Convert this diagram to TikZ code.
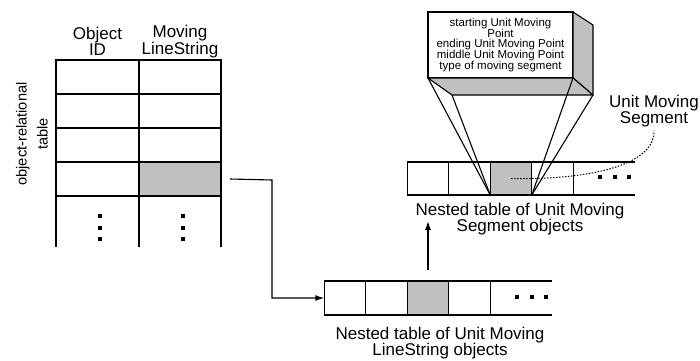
\documentclass[tikz,border=0pt]{standalone}
\usepackage{fontspec}
\setmainfont{Liberation Sans}
\usetikzlibrary{arrows.meta}
\definecolor{cellgray}{RGB}{192,192,192}
\begin{document}
\begin{tikzpicture}[x=1pt,y=-1pt,line width=1.1pt,
  cell/.style={draw, minimum width=#1, minimum height=34pt, inner sep=0pt, outer sep=0pt},
  graycell/.style={cell=#1, fill=cellgray},
  sq/.style={fill=black, minimum size=4pt, inner sep=0pt, outer sep=0pt},
  lbl/.style={align=center, inner sep=0pt, font=\fontsize{17}{16.5}\selectfont},
  arr/.style={-{Latex[length=9pt,width=6pt]}},
  dotline/.style={line width=1pt, dash pattern=on 1.5pt off 1.5pt}]
\useasboundingbox (0,0) rectangle (700,360);

% ---------- left object-relational table ----------
\node[lbl] (h1) at (97.5,41.5) {Object\\ID};
\node[lbl] (h2) at (180,41.5) {Moving\\LineString};
\node[lbl, rotate=90, font=\fontsize{14.6}{21}\selectfont] (side) at (32,134) {object-relational\\table};

\node[cell=83pt] (a11) at (97.5,77) {};
\node[cell=82pt] (a12) at (180,77) {};
\node[cell=83pt] (a21) at (97.5,111) {};
\node[cell=82pt] (a22) at (180,111) {};
\node[cell=83pt] (a31) at (97.5,145) {};
\node[cell=82pt] (a32) at (180,145) {};
\node[cell=83pt] (a41) at (97.5,179) {};
\node[graycell=82pt] (a42) at (180,179) {};
\draw (a41.south west) -- ++(0,51);
\draw (a41.south east) -- ++(0,51);
\draw (a42.south east) -- ++(0,51);
\foreach \yy [count=\i] in {216,228,239}{
  \node[sq] (dl\i) at (100,\yy) {};
  \node[sq] (dr\i) at (183,\yy) {};
}

% ---------- bottom nested table ----------
\node[cell=41.5pt] (b1) at (345,298) {};
\node[cell=41.5pt] (b2) at (386.5,298) {};
\node[graycell=41.5pt] (b3) at (428,298) {};
\node[cell=41.5pt] (b4) at (469.5,298) {};
\draw (b4.north east) -- ++(62,0);
\draw (b4.south east) -- ++(62,0);
\foreach \xx [count=\i] in {517,532,546}{ \node[sq] (bd\i) at (\xx,297) {}; }
\node[lbl] (blab) at (440,343) {Nested table of Unit Moving\\LineString objects};

% ---------- top nested table ----------
\node[cell=41.5pt, minimum height=33pt] (t1) at (428,178.5) {};
\node[cell=41.5pt, minimum height=33pt] (t2) at (469.5,178.5) {};
\node[graycell=41.5pt, minimum height=33pt] (t3) at (511,178.5) {};
\node[cell=41.5pt, minimum height=33pt] (t4) at (552.5,178.5) {};
\draw (t4.north east) -- ++(62,0);
\draw (t4.south east) -- ++(62,0);
\foreach \xx [count=\i] in {600,615,629}{ \node[sq] (td\i) at (\xx,177) {}; }
\node[lbl] (tlab) at (520,219) {Nested table of Unit Moving\\Segment objects};

% ---------- 3D info box ----------
\node[draw, fill=white, minimum width=145pt, minimum height=66pt, inner sep=0pt, outer sep=0pt,
      align=center, font=\fontsize{11.5}{10.8}\selectfont] (info) at (500.5,45)
  {starting Unit Moving\\Point\\ending Unit Moving Point\\middle Unit Moving Point\\type of moving segment};
\coordinate (bkTR) at (593,25);
\coordinate (bkBR) at (593,95);
\coordinate (bkBL) at (452,95);
\draw[fill=cellgray, line join=round] (info.north east) -- (bkTR) -- (bkBR) -- (info.south east) -- cycle;
\draw[fill=cellgray, line join=round] (info.south west) -- (info.south east) -- (bkBR) -- (bkBL) -- cycle;
\draw (info.south west) -- (t3.south west);
\draw (bkBL) -- (t3.south west);
\draw (info.south east) -- (t3.south east);
\draw (bkBR) -- (t3.south east);

% ---------- Unit Moving Segment label ----------
\node[lbl] (ums) at (654,111) {Unit Moving\\Segment};
\draw[dotline] (t3.center) .. controls (600,180) and (655,162) .. ([yshift=-3pt]ums.south);

% ---------- connectors ----------
\coordinate (k1) at (272,180);
\draw[arr] ([xshift=9pt]a42.east) -- (k1) |- (b1.west);
\coordinate (uptip) at (428,221);
\draw[arr] ([yshift=11pt]b3.north) -- (uptip);
\end{tikzpicture}
\end{document}
